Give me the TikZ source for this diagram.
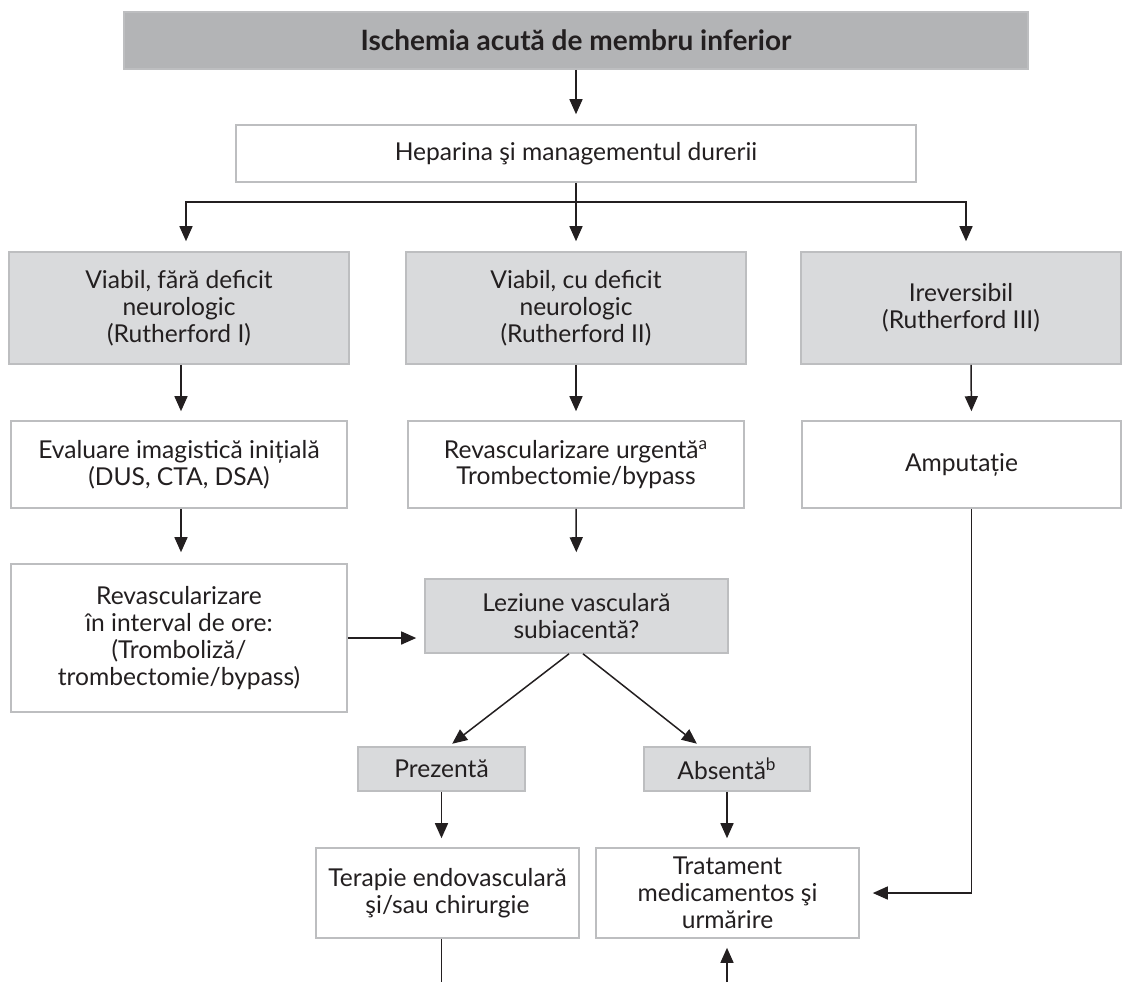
\documentclass[tikz,border=0pt]{standalone}
\usepackage{fontspec}
\setmainfont{Lato}
\usetikzlibrary{arrows.meta,calc}
\definecolor{boxline}{HTML}{BDBEC0}
\definecolor{lightfill}{HTML}{D9DADC}
\definecolor{darkfill}{HTML}{B3B4B6}
\definecolor{ink}{HTML}{231F20}

\tikzset{
  base/.style={draw=boxline, line width=0.8pt, align=center, inner sep=2pt,
    text=ink, font=\fontsize{12.3}{13.4}\selectfont},
  whitebox/.style={base, fill=white},
  greybox/.style={base, fill=lightfill},
  titlebox/.style={base, fill=darkfill, font=\fontsize{14}{16}\selectfont\bfseries},
  ln/.style={draw=ink, line width=0.75pt},
  arr/.style={ln, -{Triangle[length=7.5pt,width=6.5pt]}},
}

\begin{document}
\begin{tikzpicture}[x=0.5pt, y=-0.5pt]
\useasboundingbox (0,0) rectangle (1129,982);

% boxes
\node[titlebox, minimum width=452pt, minimum height=28.5pt] (title) at (576,40.5) {Ischemia acută de membru inferior};
\node[whitebox, minimum width=340pt, minimum height=28.5pt] (hep) at (576,153.5) {Heparina şi managementul durerii};

\node[greybox, minimum width=170pt, minimum height=56pt] (v1) at (179,308) {Viabil, fără deficit\\neurologic\\(Rutherford I)};
\node[greybox, minimum width=170pt, minimum height=56pt] (v2) at (576,308) {Viabil, cu deficit\\neurologic\\(Rutherford II)};
\node[greybox, minimum width=160pt, minimum height=56pt] (v3) at (961,308) {Ireversibil\\(Rutherford III)};

\node[whitebox, minimum width=168pt, minimum height=43.5pt] (e1) at (179,464.5) {Evaluare imagistică inițială\\(DUS, CTA, DSA)};
\node[whitebox, minimum width=168pt, minimum height=43.5pt] (e2) at (576,464.5) {Revascularizare urgentă\textsuperscript{a}\\Trombectomie/bypass};
\node[whitebox, minimum width=159.5pt, minimum height=43.5pt] (e3) at (961.5,464.5) {Amputație};

\node[whitebox, minimum width=168pt, minimum height=74pt] (r1) at (179,638) {Revascularizare\\în interval de ore:\\(Tromboliză/\\trombectomie/bypass)};
\node[greybox, minimum width=151.5pt, minimum height=37pt] (lez) at (576.5,616) {Leziune vasculară\\subiacentă?};

\node[greybox, minimum width=83.5pt, minimum height=22pt] (pre) at (441.5,769) {Prezentă};
\node[greybox, minimum width=83pt, minimum height=22pt] (abs) at (727,769) {Absentă\textsuperscript{b}};

\node[whitebox, minimum width=131.5pt, minimum height=45pt] (ter) at (447.5,893) {Terapie endovasculară\\şi/sau chirurgie};
\node[whitebox, minimum width=131.5pt, minimum height=45pt] (trat) at (727.5,893) {Tratament\\medicamentos şi\\urmărire};

% helper points
\coordinate (split) at (576,202);
\coordinate (foot) at (0,982);

% connectors
\draw[arr, shorten >=5pt] (title) -- (hep);
\draw[ln] (hep.south) -- (split);
\draw[arr, shorten >=5pt] (split) -| ([xshift=3.5pt]v1.north);
\draw[arr, shorten >=5pt] (split) -- (v2.north);
\draw[arr, shorten >=5pt] (split) -| ([xshift=2.5pt]v3.north);

\draw[arr, shorten >=4.5pt] ([xshift=1pt]v1.south) -- ([xshift=1pt]e1.north);
\draw[arr, shorten >=4.5pt] (v2.south) -- (e2.north);
\draw[arr, shorten >=4.5pt] ([xshift=5pt]v3.south) -- ([xshift=5pt]e3.north);

\draw[arr, shorten >=5.5pt] ([xshift=1pt]e1.south) -- ([xshift=1pt]r1.north);
\draw[arr, shorten >=13pt] (e2.south) -- (lez.north);
\draw[arr, shorten >=4pt] (r1.east) -- (r1.east -| lez.west);

\draw[arr, shorten >=2pt] ([xshift=-3.75pt]lez.south) -- ([xshift=3.75pt]pre.north);
\draw[arr, shorten >=2pt] ([xshift=3.25pt]lez.south) -- ([xshift=-13.5pt]abs.north);

\draw[arr, shorten >=4.5pt] (pre.south) -- (pre.south |- ter.north);
\draw[arr, shorten >=4.5pt] (abs.south) -- (abs.south |- trat.north);

\draw[arr, shorten >=6.5pt] ([xshift=5pt]e3.south) |- (trat.east);

\draw[ln] (ter.south -| pre.south) -- (foot -| pre.south);
\draw[arr, shorten >=4.5pt] (foot -| abs.south) -- (trat.south -| abs.south);
\end{tikzpicture}
\end{document}
